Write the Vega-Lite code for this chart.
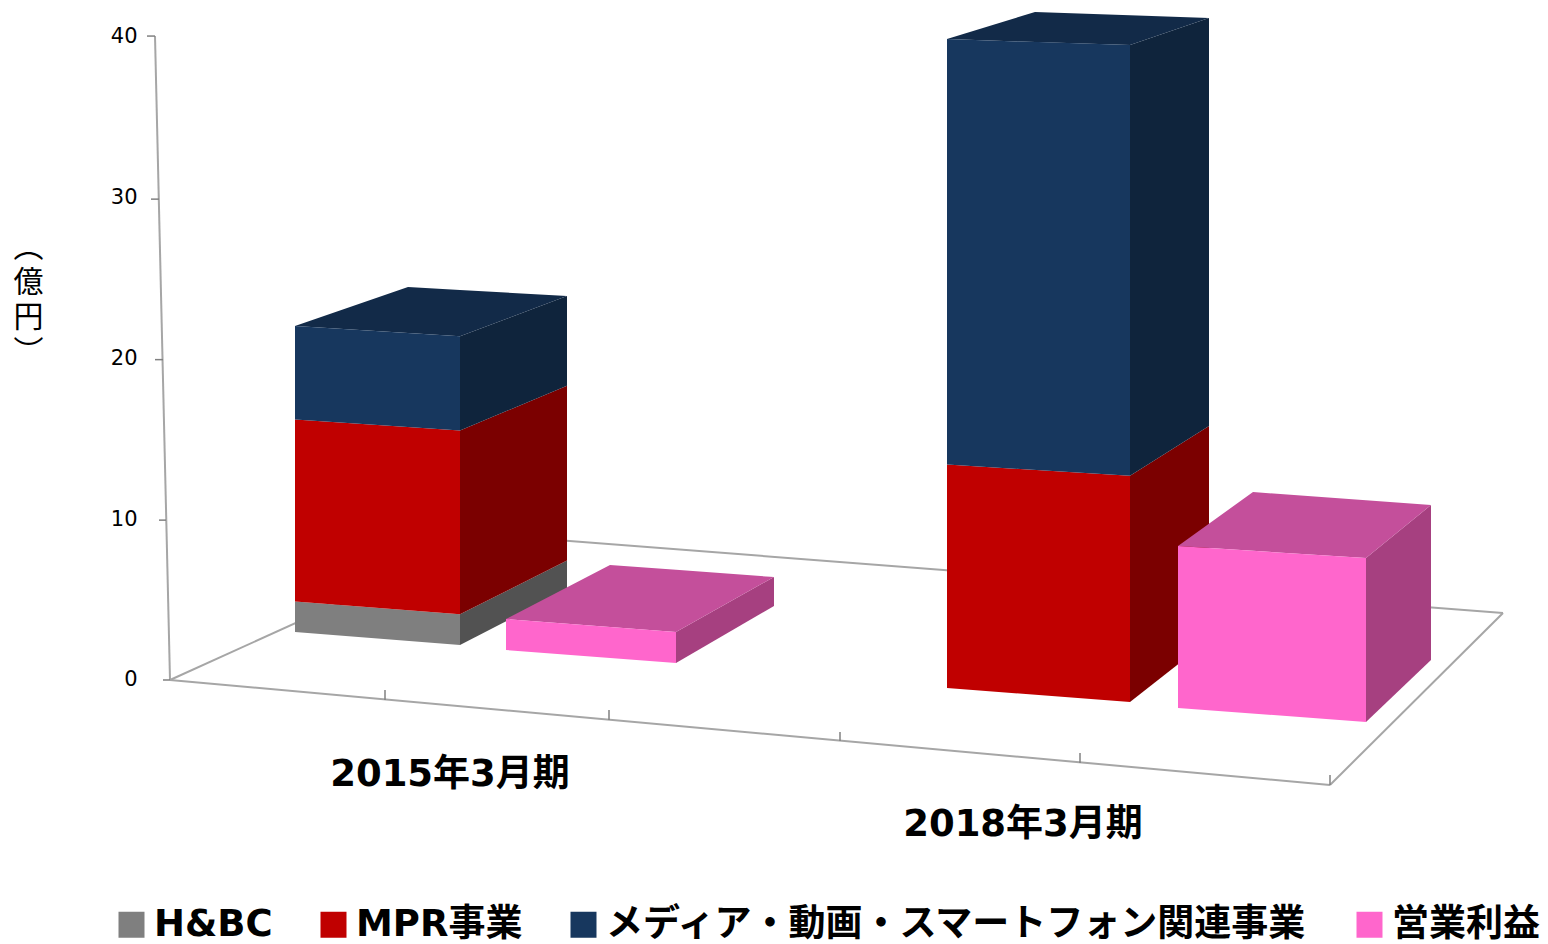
{"$schema":"https://vega.github.io/schema/vega-lite/v6.json","width":1393,"height":944,"autosize":"none","padding":{"left":155,"top":0,"right":0,"bottom":0},"background":"white","config":{"view":{"stroke":null},"font":"DejaVu Sans, Noto Sans CJK JP"},"datasets":{"segments":[{"period":"2015年3月期","series":"H&BC","from":0,"to":1.9},{"period":"2015年3月期","series":"MPR事業","from":1.9,"to":13.2},{"period":"2015年3月期","series":"メディア・動画・スマートフォン関連事業","from":13.2,"to":19},{"period":"2015年3月期","series":"営業利益","from":0,"to":1.9},{"period":"2018年3月期","series":"MPR事業","from":0,"to":13.6},{"period":"2018年3月期","series":"メディア・動画・スマートフォン関連事業","from":13.6,"to":39.5},{"period":"2018年3月期","series":"営業利益","from":0,"to":9.8}]},"layer":[{"data":{"values":[{}]},"mark":{"type":"rule","stroke":"#A6A6A6","strokeWidth":2},"encoding":{"x":{"datum":155,"type":"quantitative","axis":null,"scale":{"domain":[155,1548],"nice":false,"zero":false}},"x2":{"datum":170},"y":{"datum":40,"type":"quantitative","scale":{"domain":[-16.4,42.24],"nice":false,"zero":false},"axis":{"title":["︵","億","円","︶"],"values":[0,10,20,30,40],"domain":false,"ticks":false,"grid":false,"labelFontSize":21,"labelColor":"#000000","labelPadding":18,"labelFont":"DejaVu Sans","titleFont":"Noto Sans CJK JP","titleFontWeight":"normal","titleFontSize":30,"titleColor":"#000000","titleAngle":0,"titleAlign":"center","titleBaseline":"top","titleLineHeight":35,"titleX":-127,"titleY":232}},"y2":{"datum":0}}},{"data":{"values":[{}]},"mark":{"type":"rule","stroke":"#A6A6A6","strokeWidth":2},"encoding":{"x":{"datum":170,"type":"quantitative","axis":null},"x2":{"datum":1330},"y":{"datum":0,"type":"quantitative"},"y2":{"datum":-6.52}}},{"data":{"values":[{}]},"mark":{"type":"rule","stroke":"#A6A6A6","strokeWidth":2},"encoding":{"x":{"datum":1330,"type":"quantitative","axis":null},"x2":{"datum":1503},"y":{"datum":-6.52,"type":"quantitative"},"y2":{"datum":4.16}}},{"data":{"values":[{}]},"mark":{"type":"rule","stroke":"#A6A6A6","strokeWidth":2},"encoding":{"x":{"datum":170,"type":"quantitative","axis":null},"x2":{"datum":490},"y":{"datum":0,"type":"quantitative"},"y2":{"datum":9.01}}},{"data":{"values":[{}]},"mark":{"type":"rule","stroke":"#A6A6A6","strokeWidth":2},"encoding":{"x":{"datum":490,"type":"quantitative","axis":null},"x2":{"datum":1503},"y":{"datum":9.01,"type":"quantitative"},"y2":{"datum":4.16}}},{"data":{"values":[{}]},"mark":{"type":"rule","stroke":"#808080","strokeWidth":1.5},"encoding":{"x":{"datum":147,"type":"quantitative","axis":null},"x2":{"datum":155},"y":{"datum":40,"type":"quantitative"}}},{"data":{"values":[{}]},"mark":{"type":"rule","stroke":"#808080","strokeWidth":1.5},"encoding":{"x":{"datum":151,"type":"quantitative","axis":null},"x2":{"datum":159},"y":{"datum":29.87,"type":"quantitative"}}},{"data":{"values":[{}]},"mark":{"type":"rule","stroke":"#808080","strokeWidth":1.5},"encoding":{"x":{"datum":155,"type":"quantitative","axis":null},"x2":{"datum":163},"y":{"datum":19.9,"type":"quantitative"}}},{"data":{"values":[{}]},"mark":{"type":"rule","stroke":"#808080","strokeWidth":1.5},"encoding":{"x":{"datum":159,"type":"quantitative","axis":null},"x2":{"datum":166},"y":{"datum":9.93,"type":"quantitative"}}},{"data":{"values":[{}]},"mark":{"type":"rule","stroke":"#808080","strokeWidth":1.5},"encoding":{"x":{"datum":163,"type":"quantitative","axis":null},"x2":{"datum":170},"y":{"datum":0,"type":"quantitative"}}},{"data":{"values":[{}]},"mark":{"type":"rule","stroke":"#808080","strokeWidth":1.5},"encoding":{"x":{"datum":385,"type":"quantitative","axis":null},"y":{"datum":-0.62,"type":"quantitative"},"y2":{"datum":-1.24}}},{"data":{"values":[{}]},"mark":{"type":"rule","stroke":"#808080","strokeWidth":1.5},"encoding":{"x":{"datum":609,"type":"quantitative","axis":null},"y":{"datum":-1.86,"type":"quantitative"},"y2":{"datum":-2.48}}},{"data":{"values":[{}]},"mark":{"type":"rule","stroke":"#808080","strokeWidth":1.5},"encoding":{"x":{"datum":840,"type":"quantitative","axis":null},"y":{"datum":-3.23,"type":"quantitative"},"y2":{"datum":-3.79}}},{"data":{"values":[{}]},"mark":{"type":"rule","stroke":"#808080","strokeWidth":1.5},"encoding":{"x":{"datum":1080,"type":"quantitative","axis":null},"y":{"datum":-4.53,"type":"quantitative"},"y2":{"datum":-5.16}}},{"data":{"values":[{}]},"mark":{"type":"rule","stroke":"#808080","strokeWidth":1.5},"encoding":{"x":{"datum":1330,"type":"quantitative","axis":null},"y":{"datum":-5.9,"type":"quantitative"},"y2":{"datum":-6.52}}},{"data":{"name":"segments"},"transform":[{"calculate":"{s2015:{FL:{x:295,f:2.98,p:1.0003},FR:{x:460,f:2.17,p:1.01},BR:{x:567,f:5.59,p:0.961},BL:{x:408,f:6.27,p:0.9546}},p2015:{FL:{x:506,f:1.863,p:1.013},FR:{x:676,f:1.056,p:1.013},BR:{x:774,f:4.596,p:0.948},BL:{x:610,f:5.342,p:0.948}},s2018:{FL:{x:947,f:-0.497,p:1.0205},FR:{x:1130,f:-1.366,p:1.033},BR:{x:1209,f:2.484,p:0.978},BL:{x:1035,f:2.981,p:0.975}},p2018:{FL:{x:1178,f:-1.739,p:1.0267},FR:{x:1366,f:-2.609,p:1.0394},BR:{x:1431,f:1.242,p:0.9824},BL:{x:1253,f:2.05,p:0.9824}}}[(datum.series==='営業利益'?'p':'s')+slice(datum.period,0,4)]","as":"g"},{"calculate":"datum.series==='営業利益'?'profit':'stack'","as":"group"},{"calculate":"['FL','FR']","as":"frontEdges"},{"calculate":"['FR','BR']","as":"sideEdges"},{"calculate":"datum.g.FL.f+datum.to*datum.g.FL.p","as":"yFL"},{"calculate":"datum.g.FR.f+datum.to*datum.g.FR.p","as":"yFR"},{"calculate":"datum.g.BR.f+datum.to*datum.g.BR.p","as":"yBR"},{"calculate":"datum.g.BL.f+datum.to*datum.g.BL.p","as":"yBL"},{"calculate":"{'H&BC':'#525252','MPR事業':'#7B0000','メディア・動画・スマートフォン関連事業':'#0F243C','営業利益':'#A64080'}[datum.series]","as":"sideColor"}],"layer":[{"transform":[{"filter":"datum.group==='stack'"},{"flatten":["sideEdges"],"as":["edge"]},{"calculate":"datum.g[datum.edge].x","as":"px"},{"calculate":"datum.g[datum.edge].f+datum.from*datum.g[datum.edge].p","as":"low"},{"calculate":"datum.g[datum.edge].f+datum.to*datum.g[datum.edge].p","as":"high"}],"mark":{"type":"area"},"encoding":{"x":{"field":"px","type":"quantitative","axis":null},"y":{"field":"low","type":"quantitative"},"y2":{"field":"high"},"detail":{"field":"period"},"color":{"field":"sideColor","type":"nominal","scale":null}}},{"transform":[{"filter":"datum.group==='stack' && datum.series==='メディア・動画・スマートフォン関連事業'"},{"calculate":"['FL','BL','FR','BR']","as":"topEdges"},{"flatten":["topEdges"],"as":["edge"]},{"calculate":"datum.g[datum.edge].x","as":"px"},{"calculate":"datum.edge==='FL'?datum.yFL:datum.edge==='BL'?datum.yFL+(datum.yFR-datum.yFL)*(datum.g.BL.x-datum.g.FL.x)/(datum.g.FR.x-datum.g.FL.x):datum.edge==='FR'?datum.yFR:datum.yBR","as":"low"},{"calculate":"datum.edge==='FL'?datum.yFL:datum.edge==='BL'?datum.yBL:datum.edge==='FR'?datum.yBL+(datum.yBR-datum.yBL)*(datum.g.FR.x-datum.g.BL.x)/(datum.g.BR.x-datum.g.BL.x):datum.yBR","as":"high"}],"mark":{"type":"area","color":"#122A48"},"encoding":{"x":{"field":"px","type":"quantitative","axis":null},"y":{"field":"low","type":"quantitative"},"y2":{"field":"high"},"detail":{"field":"period"}}},{"transform":[{"filter":"datum.group==='stack'"},{"flatten":["frontEdges"],"as":["edge"]},{"calculate":"datum.g[datum.edge].x","as":"px"},{"calculate":"datum.g[datum.edge].f+datum.from*datum.g[datum.edge].p","as":"low"},{"calculate":"datum.g[datum.edge].f+datum.to*datum.g[datum.edge].p","as":"high"}],"mark":{"type":"area"},"encoding":{"x":{"field":"px","type":"quantitative","axis":null},"y":{"field":"low","type":"quantitative"},"y2":{"field":"high"},"detail":{"field":"period"},"color":{"field":"series","type":"nominal","title":null,"scale":{"domain":["H&BC","MPR事業","メディア・動画・スマートフォン関連事業","営業利益"],"range":["#7F7F7F","#C00000","#17375E","#FF66CC"]},"legend":{"orient":"none","legendX":-42,"legendY":906,"direction":"horizontal","columns":4,"symbolType":"square","symbolSize":676,"symbolStrokeWidth":0,"labelFontSize":37,"labelFontWeight":"bold","labelFont":"DejaVu Sans, Noto Sans CJK JP","labelColor":"#000000","labelLimit":900,"columnPadding":42,"title":null}}}},{"transform":[{"filter":"datum.group==='profit'"},{"flatten":["sideEdges"],"as":["edge"]},{"calculate":"datum.g[datum.edge].x","as":"px"},{"calculate":"datum.g[datum.edge].f+datum.from*datum.g[datum.edge].p","as":"low"},{"calculate":"datum.g[datum.edge].f+datum.to*datum.g[datum.edge].p","as":"high"}],"mark":{"type":"area","color":"#A64080"},"encoding":{"x":{"field":"px","type":"quantitative","axis":null},"y":{"field":"low","type":"quantitative"},"y2":{"field":"high"},"detail":{"field":"period"}}},{"transform":[{"filter":"datum.group==='profit'"},{"calculate":"['FL','BL','FR','BR']","as":"topEdges"},{"flatten":["topEdges"],"as":["edge"]},{"calculate":"datum.g[datum.edge].x","as":"px"},{"calculate":"datum.edge==='FL'?datum.yFL:datum.edge==='BL'?datum.yFL+(datum.yFR-datum.yFL)*(datum.g.BL.x-datum.g.FL.x)/(datum.g.FR.x-datum.g.FL.x):datum.edge==='FR'?datum.yFR:datum.yBR","as":"low"},{"calculate":"datum.edge==='FL'?datum.yFL:datum.edge==='BL'?datum.yBL:datum.edge==='FR'?datum.yBL+(datum.yBR-datum.yBL)*(datum.g.FR.x-datum.g.BL.x)/(datum.g.BR.x-datum.g.BL.x):datum.yBR","as":"high"}],"mark":{"type":"area","color":"#C44F9B"},"encoding":{"x":{"field":"px","type":"quantitative","axis":null},"y":{"field":"low","type":"quantitative"},"y2":{"field":"high"},"detail":{"field":"period"}}},{"transform":[{"filter":"datum.group==='profit'"},{"flatten":["frontEdges"],"as":["edge"]},{"calculate":"datum.g[datum.edge].x","as":"px"},{"calculate":"datum.g[datum.edge].f+datum.from*datum.g[datum.edge].p","as":"low"},{"calculate":"datum.g[datum.edge].f+datum.to*datum.g[datum.edge].p","as":"high"}],"mark":{"type":"area","color":"#FF66CC"},"encoding":{"x":{"field":"px","type":"quantitative","axis":null},"y":{"field":"low","type":"quantitative"},"y2":{"field":"high"},"detail":{"field":"period"}}}]},{"data":{"values":[{"period":"2015年3月期"}]},"mark":{"type":"text","fontSize":37,"fontWeight":"bold","font":"DejaVu Sans, Noto Sans CJK JP","color":"#000000","align":"center","baseline":"middle"},"encoding":{"text":{"field":"period"},"x":{"datum":450,"type":"quantitative","axis":null},"y":{"datum":-5.9,"type":"quantitative"}}},{"data":{"values":[{"period":"2018年3月期"}]},"mark":{"type":"text","fontSize":37,"fontWeight":"bold","font":"DejaVu Sans, Noto Sans CJK JP","color":"#000000","align":"center","baseline":"middle"},"encoding":{"text":{"field":"period"},"x":{"datum":1023,"type":"quantitative","axis":null},"y":{"datum":-9.0,"type":"quantitative"}}}]}
